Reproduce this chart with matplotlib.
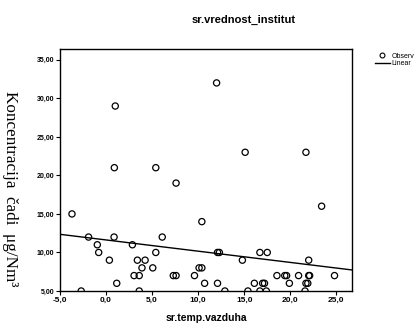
import numpy as np
import matplotlib
matplotlib.use("Agg")
import matplotlib.pyplot as plt
from matplotlib.lines import Line2D

temp = [1.0, 0.9, 5.4, 12.0, 15.1, 21.7, 7.6, 10.4, 6.1, 5.4, 5.07, 7.3, 7.6, 9.6,
        10.1, 10.4, 10.7, 12.1, 12.9, 15.4, 12.1, 12.3, 14.8, -3.7, -1.9, 0.87,
        -0.95, -0.8, 2.86, 0.36, 3.4, 4.24, 3.9, 3.04, 3.6, 1.16, -2.7, 3.6,
        23.4, 16.7, 17.5, 22.0, 18.55, 19.4, 19.6, 20.9, 22.0, 22.1, 24.8,
        16.1, 17.0, 17.2, 19.9, 21.7, 21.9, 16.7, 17.4, 21.6]
conc = [29, 21, 21, 32, 23, 23, 19, 14, 12, 10, 8, 7, 7, 7,
        8, 8, 6, 6, 5, 5, 10, 10, 9, 15, 12, 12,
        11, 10, 11, 9, 9, 9, 8, 7, 7, 6, 5, 5,
        16, 10, 10, 9, 7, 7, 7, 7, 7, 7, 7,
        6, 6, 6, 6, 6, 6, 5, 5, 5]

xticks = [-5, 0, 5, 10, 15, 20, 25]
yticks = [5, 10, 15, 20, 25, 30, 35]
xticklabels = ["-5,0", "0,0", "5,0", "10,0", "15,0", "20,0", "25,0"]
yticklabels = ["5,00", "10,00", "15,00", "20,00", "25,00", "30,00", "35,00"]

plt.rcParams['font.family'] = ['Liberation Sans', 'DejaVu Sans']

fig = plt.figure(figsize=(4.18, 3.25), dpi=100)
ax = fig.add_axes([60/418, 1-291/325, 292/418, 242/325])

x = np.array(temp)
y = np.array(conc)
slope, intercept = np.polyfit(x, y, 1)
xl = np.array([-5.0, 26.7])

ax.scatter(x, y, s=20, facecolors='none', edgecolors='black', linewidths=0.9, zorder=3)
ax.plot(xl, intercept + slope*xl, color='black', lw=1.0, zorder=2)

ax.set_xlim(-5.0, 26.7)
ax.set_ylim(5.0, 36.4)
ax.set_xticks(xticks)
ax.set_xticklabels(xticklabels, fontsize=6, fontweight='bold')
ax.set_yticks(yticks)
ax.set_yticklabels(yticklabels, fontsize=5, fontweight='bold')
ax.tick_params(direction='out', length=3, width=0.8, pad=1)
for s in ax.spines.values():
    s.set_linewidth(1.0)

fig.text(206/418, 1-318/325, "sr.temp.vazduha", fontsize=7.5, fontweight='bold',
         ha='center', va='center')
fig.text(244/418, 1-20/325, "sr.vrednost_institut", fontsize=8, fontweight='bold',
         ha='center', va='center')
fig.text(10/418, 1-189/325, "Koncentracija  čadi  μg/Nm³", fontsize=12.3,
         family=['Liberation Serif', 'DejaVu Serif'], rotation=270,
         ha='center', va='center')

handles = [Line2D([], [], ls='none', marker='o', mfc='none', mec='black', ms=3.5, mew=0.8),
           Line2D([], [], color='black', lw=1.0)]
fig.legend(handles, ["Observ", "Linear"], loc='upper left',
           bbox_to_anchor=(372/418, 1-50/325), frameon=False, fontsize=5,
           handlelength=2.2, handletextpad=0.2, labelspacing=0.1, borderaxespad=0)

fig.savefig("out.png", dpi=100)
